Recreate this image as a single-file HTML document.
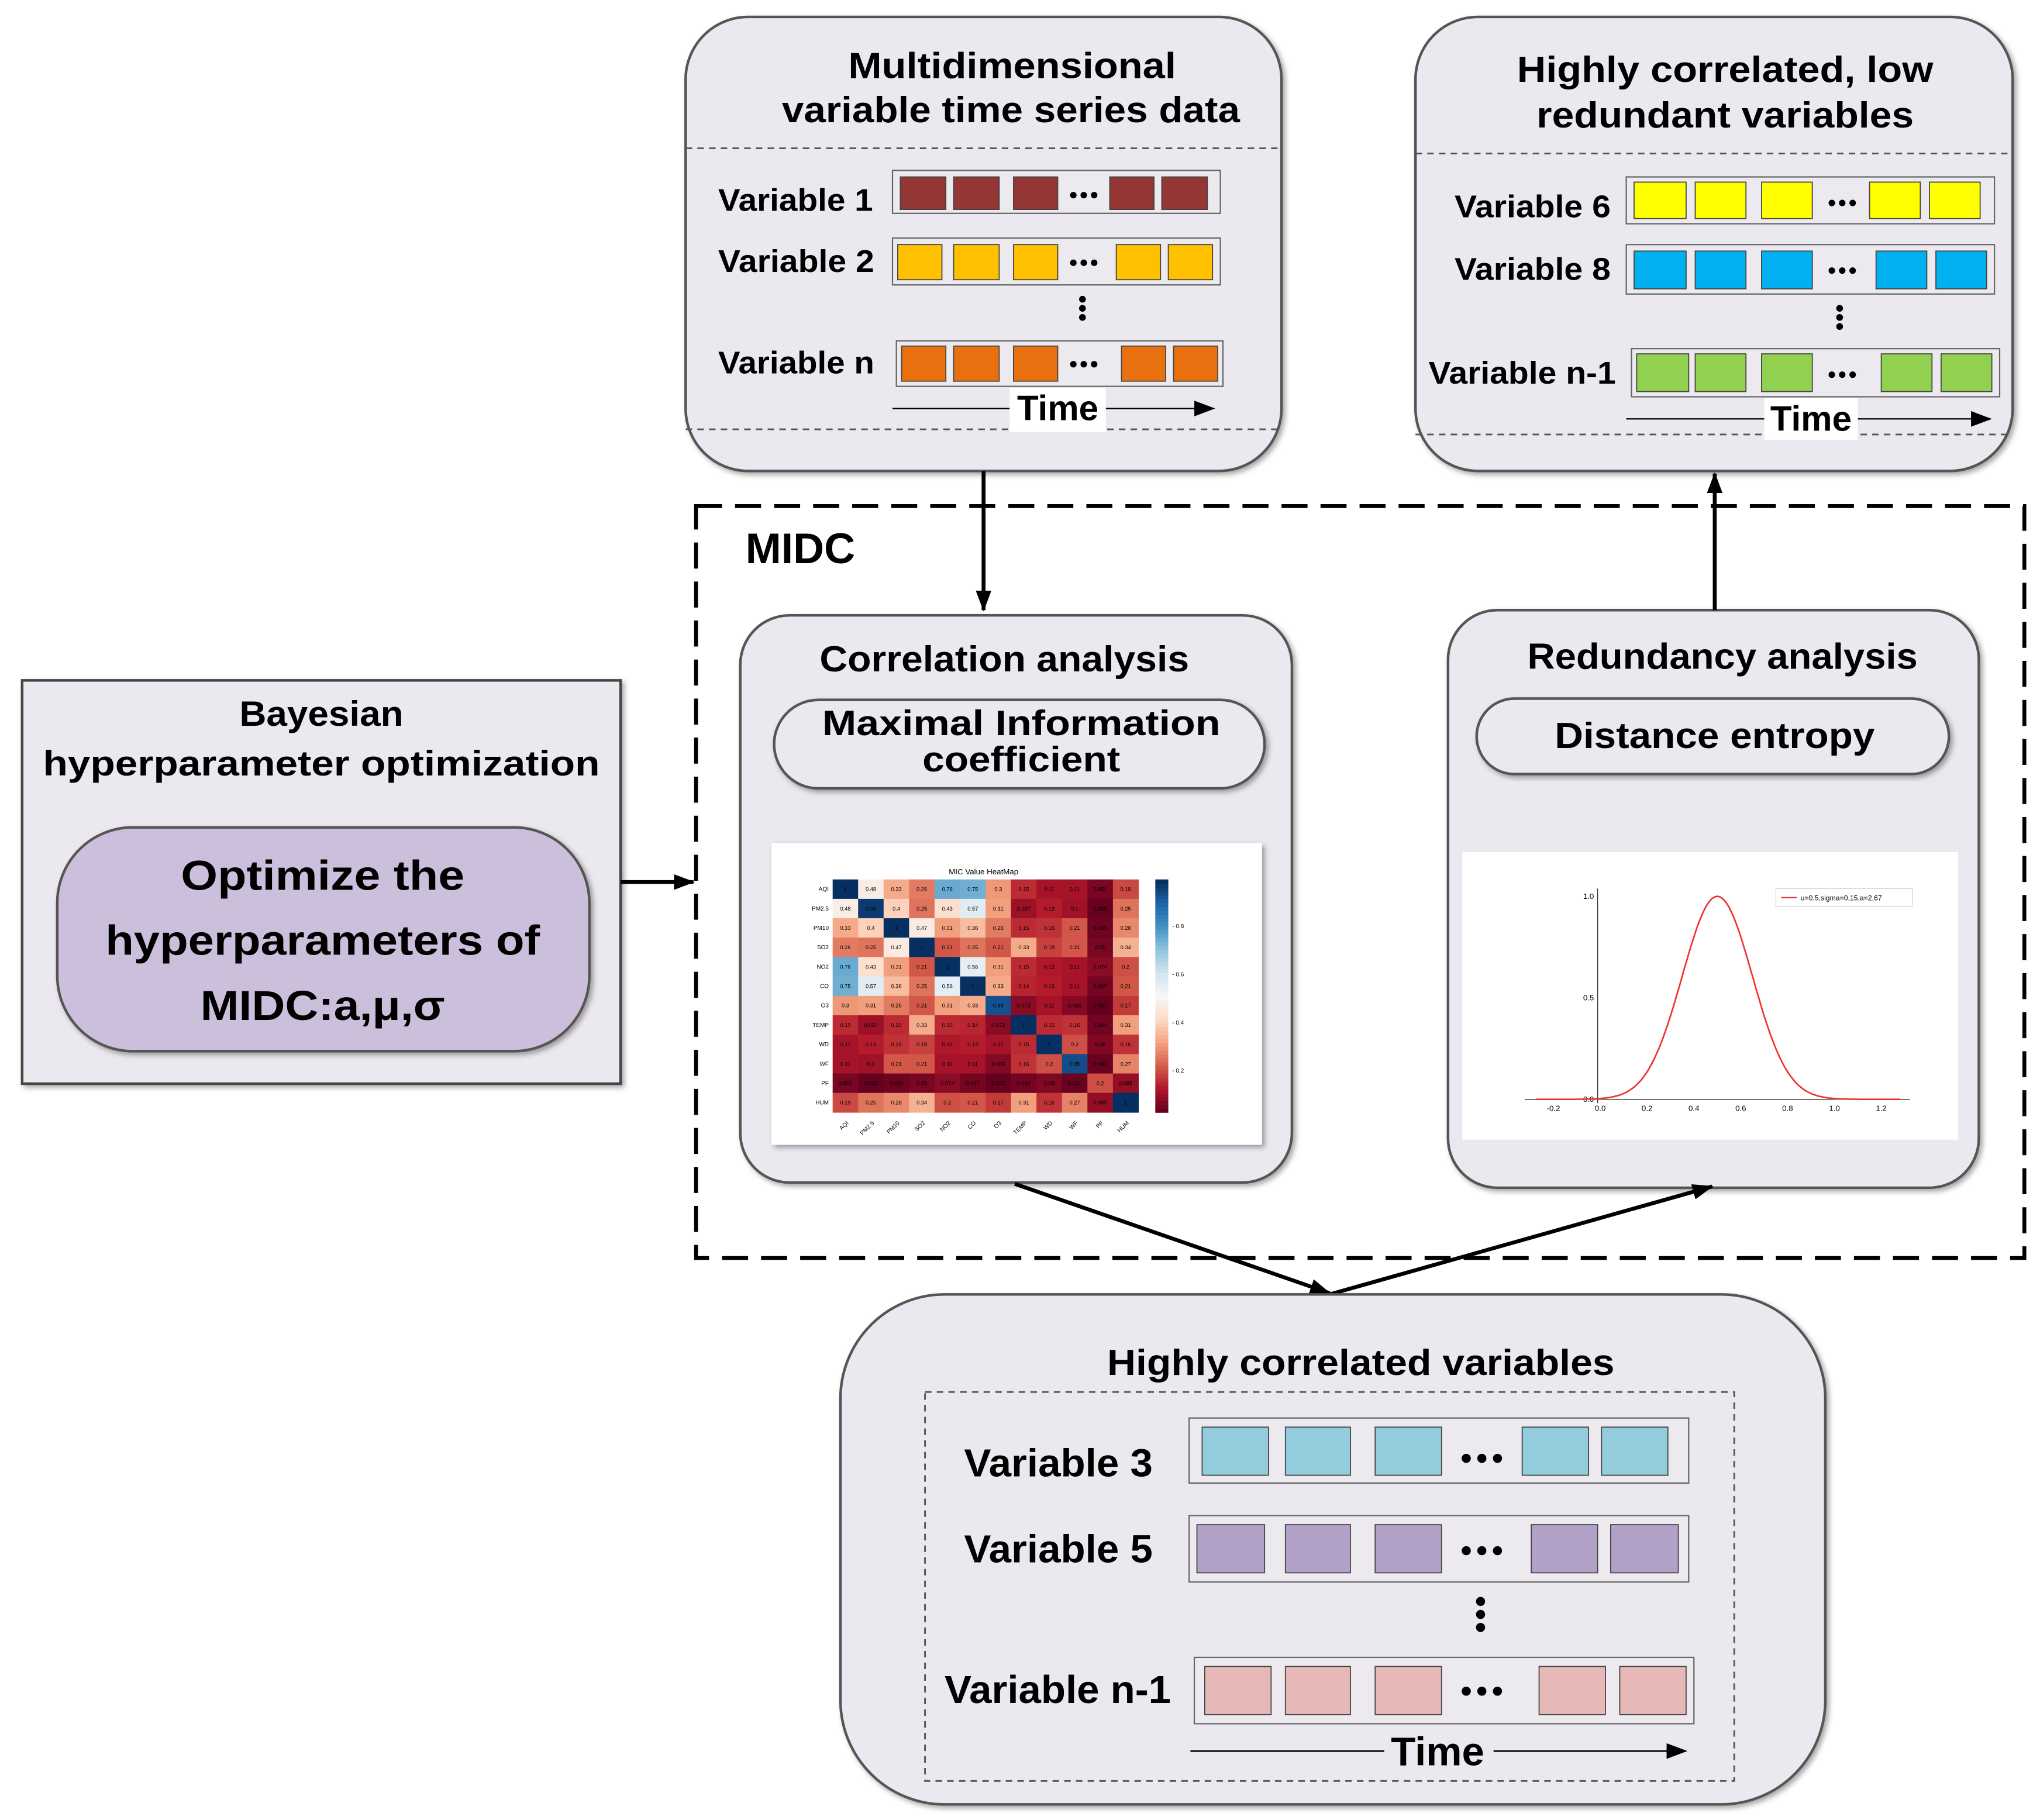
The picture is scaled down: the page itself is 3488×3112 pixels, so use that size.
<!DOCTYPE html>
<html><head><meta charset="utf-8">
<style>
html,body{margin:0;padding:0;background:#fff;}
svg{display:block;}
text{font-family:"Liberation Sans",sans-serif;font-weight:bold;fill:#000;}
</style></head>
<body>
<svg id="s" xmlns="http://www.w3.org/2000/svg" width="3488" height="3112" viewBox="0 0 1568 1399">
<defs>
<filter id="sh" x="-10%" y="-10%" width="120%" height="120%">
<feDropShadow dx="2" dy="2" stdDeviation="2" flood-color="#000" flood-opacity="0.35"/>
</filter>
<marker id="ar" markerWidth="10" markerHeight="10" refX="9" refY="5" orient="auto" markerUnits="userSpaceOnUse">
<path d="M0,0 L10,5 L0,10 z" fill="#000"/>
</marker>
<marker id="ar2" markerWidth="16" markerHeight="12" refX="15" refY="6" orient="auto" markerUnits="userSpaceOnUse">
<path d="M0,0 L16,6 L0,12 z" fill="#000"/>
</marker>
</defs>

<!-- Top-middle box -->
<rect x="527" y="13" width="458" height="349" rx="48" fill="#ebe8ef" stroke="#555" stroke-width="2" filter="url(#sh)"/>
<text x="778" y="60" font-size="28" text-anchor="middle" textLength="252" lengthAdjust="spacingAndGlyphs">Multidimensional</text>
<text x="777" y="94" font-size="28" text-anchor="middle" textLength="352" lengthAdjust="spacingAndGlyphs">variable time series data</text>
<line x1="527" y1="114" x2="985" y2="114" stroke="#555" stroke-width="1.3" stroke-dasharray="5,4"/>
<line x1="527" y1="330" x2="985" y2="330" stroke="#555" stroke-width="1.3" stroke-dasharray="5,4"/>
<text x="552" y="162" font-size="24" textLength="119" lengthAdjust="spacingAndGlyphs">Variable 1</text>
<text x="552" y="209" font-size="24" textLength="120" lengthAdjust="spacingAndGlyphs">Variable 2</text>
<text x="552" y="287" font-size="24" textLength="120" lengthAdjust="spacingAndGlyphs">Variable n</text>
<g stroke="#666" stroke-width="1" fill="#ece9ef">
<rect x="686" y="131" width="252" height="33"/>
<rect x="686" y="183" width="252" height="36"/>
<rect x="689" y="262" width="251" height="35"/>
</g>
<g stroke="#444" stroke-width="0.8" fill="#943634">
<rect x="692" y="136" width="35" height="25"/><rect x="733" y="136" width="35" height="25"/><rect x="779" y="136" width="34" height="25"/><rect x="853" y="136" width="34" height="25"/><rect x="893" y="136" width="35" height="25"/>
</g>
<g stroke="#444" stroke-width="0.8" fill="#ffc000">
<rect x="690" y="188" width="34" height="27"/><rect x="733" y="188" width="35" height="27"/><rect x="779" y="188" width="34" height="27"/><rect x="858" y="188" width="34" height="27"/><rect x="898" y="188" width="34" height="27"/>
</g>
<g stroke="#444" stroke-width="0.8" fill="#e8700f">
<rect x="693" y="266" width="34" height="27"/><rect x="733" y="266" width="35" height="27"/><rect x="779" y="266" width="34" height="27"/><rect x="862" y="266" width="34" height="27"/><rect x="902" y="266" width="34" height="27"/>
</g>
<g fill="#000">
<circle cx="825" cy="150" r="2.5"/><circle cx="833" cy="150" r="2.5"/><circle cx="841" cy="150" r="2.5"/>
<circle cx="825" cy="202" r="2.5"/><circle cx="833" cy="202" r="2.5"/><circle cx="841" cy="202" r="2.5"/>
<circle cx="825" cy="280" r="2.5"/><circle cx="833" cy="280" r="2.5"/><circle cx="841" cy="280" r="2.5"/>
<circle cx="832" cy="230" r="2.6"/><circle cx="832" cy="237" r="2.6"/><circle cx="832" cy="244" r="2.6"/>
</g>
<line x1="686" y1="314" x2="933" y2="314" stroke="#000" stroke-width="1" marker-end="url(#ar2)"/>
<rect x="776" y="298" width="74" height="34" fill="#fff"/>
<text x="813" y="323" font-size="27" text-anchor="middle">Time</text>

<!-- Top-right box -->
<rect x="1088" y="13" width="459" height="349" rx="48" fill="#ebe8ef" stroke="#555" stroke-width="2" filter="url(#sh)"/>
<text x="1326" y="63" font-size="28" text-anchor="middle" textLength="320" lengthAdjust="spacingAndGlyphs">Highly correlated, low</text>
<text x="1326" y="98" font-size="28" text-anchor="middle" textLength="290" lengthAdjust="spacingAndGlyphs">redundant variables</text>
<line x1="1088" y1="118" x2="1547" y2="118" stroke="#555" stroke-width="1.3" stroke-dasharray="5,4"/>
<line x1="1088" y1="334" x2="1547" y2="334" stroke="#555" stroke-width="1.3" stroke-dasharray="5,4"/>
<text x="1118" y="167" font-size="24" textLength="120" lengthAdjust="spacingAndGlyphs">Variable 6</text>
<text x="1118" y="215" font-size="24" textLength="120" lengthAdjust="spacingAndGlyphs">Variable 8</text>
<text x="1098" y="295" font-size="24" textLength="144" lengthAdjust="spacingAndGlyphs">Variable n-1</text>
<g stroke="#666" stroke-width="1" fill="#ece9ef">
<rect x="1250" y="136" width="283" height="36"/>
<rect x="1250" y="188" width="283" height="38"/>
<rect x="1254" y="268" width="283" height="37"/>
</g>
<g stroke="#444" stroke-width="0.8" fill="#ffff00">
<rect x="1256" y="140" width="40" height="28"/><rect x="1303" y="140" width="39" height="28"/><rect x="1354" y="140" width="39" height="28"/><rect x="1437" y="140" width="39" height="28"/><rect x="1483" y="140" width="39" height="28"/>
</g>
<g stroke="#444" stroke-width="0.8" fill="#00b0f0">
<rect x="1256" y="193" width="40" height="29"/><rect x="1303" y="193" width="39" height="29"/><rect x="1354" y="193" width="39" height="29"/><rect x="1442" y="193" width="39" height="29"/><rect x="1488" y="193" width="39" height="29"/>
</g>
<g stroke="#444" stroke-width="0.8" fill="#92d050">
<rect x="1258" y="272" width="40" height="29"/><rect x="1303" y="272" width="39" height="29"/><rect x="1354" y="272" width="39" height="29"/><rect x="1446" y="272" width="39" height="29"/><rect x="1492" y="272" width="39" height="29"/>
</g>
<g fill="#000">
<circle cx="1408" cy="156" r="2.5"/><circle cx="1416" cy="156" r="2.5"/><circle cx="1424" cy="156" r="2.5"/>
<circle cx="1408" cy="208" r="2.5"/><circle cx="1416" cy="208" r="2.5"/><circle cx="1424" cy="208" r="2.5"/>
<circle cx="1408" cy="288" r="2.5"/><circle cx="1416" cy="288" r="2.5"/><circle cx="1424" cy="288" r="2.5"/>
<circle cx="1414" cy="237" r="2.6"/><circle cx="1414" cy="244" r="2.6"/><circle cx="1414" cy="251" r="2.6"/>
</g>
<line x1="1250" y1="322" x2="1530" y2="322" stroke="#000" stroke-width="1" marker-end="url(#ar2)"/>
<rect x="1356" y="306" width="72" height="32" fill="#fff"/>
<text x="1392" y="331" font-size="27" text-anchor="middle">Time</text>

<!-- MIDC dashed -->
<rect x="535" y="389" width="1021" height="578" fill="none" stroke="#000" stroke-width="3" stroke-dasharray="20,10"/>
<text x="573" y="433" font-size="33">MIDC</text>

<!-- Correlation box -->
<rect x="569" y="473" width="424" height="436" rx="38" fill="#ebe8ef" stroke="#555" stroke-width="2" filter="url(#sh)"/>
<text x="772" y="516" font-size="28" text-anchor="middle" textLength="284" lengthAdjust="spacingAndGlyphs">Correlation analysis</text>
<rect x="595" y="538" width="377" height="68" rx="34" fill="#ebe8ef" stroke="#555" stroke-width="2" filter="url(#sh)"/>
<text x="785" y="565" font-size="27" text-anchor="middle" textLength="306" lengthAdjust="spacingAndGlyphs">Maximal Information</text>
<text x="785" y="593" font-size="27" text-anchor="middle" textLength="152" lengthAdjust="spacingAndGlyphs">coefficient</text>
<rect x="593" y="648" width="377" height="232" fill="#fff" filter="url(#sh)"/>
<text x="756" y="672" font-size="6" font-weight="normal" style="font-weight:normal" fill="#333" text-anchor="middle">MIC Value HeatMap</text>
<g id="hm"></g>

<!-- Redundancy box -->
<rect x="1113" y="469" width="408" height="444" rx="38" fill="#ebe8ef" stroke="#555" stroke-width="2" filter="url(#sh)"/>
<text x="1324" y="514" font-size="28" text-anchor="middle" textLength="300" lengthAdjust="spacingAndGlyphs">Redundancy analysis</text>
<rect x="1135" y="537" width="363" height="58" rx="29" fill="#ebe8ef" stroke="#555" stroke-width="2" filter="url(#sh)"/>
<text x="1318" y="575" font-size="28" text-anchor="middle" textLength="246" lengthAdjust="spacingAndGlyphs">Distance entropy</text>
<rect x="1124" y="655" width="381" height="221" fill="#fff"/>
<g stroke="#333" stroke-width="0.6" fill="none">
<line x1="1172" y1="845" x2="1468" y2="845"/>
<line x1="1228" y1="683" x2="1228" y2="848"/>
</g>
<g font-size="6" style="font-weight:normal" fill="#333" text-anchor="middle">
<text x="1194" y="854" style="font-weight:normal">-0.2</text><text x="1230" y="854" style="font-weight:normal">0.0</text><text x="1266" y="854" style="font-weight:normal">0.2</text><text x="1302" y="854" style="font-weight:normal">0.4</text><text x="1338" y="854" style="font-weight:normal">0.6</text><text x="1374" y="854" style="font-weight:normal">0.8</text><text x="1410" y="854" style="font-weight:normal">1.0</text><text x="1446" y="854" style="font-weight:normal">1.2</text>
<text x="1221" y="691" style="font-weight:normal">1.0</text><text x="1221" y="769" style="font-weight:normal">0.5</text><text x="1221" y="847" style="font-weight:normal">0.0</text>
</g>
<path id="gauss" fill="none" stroke="#f03030" stroke-width="1.2" d=""/>
<rect x="1365" y="683" width="105" height="14" fill="#fff" stroke="#ccc" stroke-width="0.5"/>
<line x1="1369" y1="690" x2="1381" y2="690" stroke="#f03030" stroke-width="1"/>
<text x="1384" y="692" font-size="5.5" style="font-weight:normal" fill="#333">u=0.5,sigma=0.15,a=2.67</text>

<!-- Bayesian box -->
<rect x="17" y="523" width="460" height="310" fill="#ebe8ef" stroke="#444" stroke-width="2" filter="url(#sh)"/>
<text x="247" y="558" font-size="27" text-anchor="middle" textLength="126" lengthAdjust="spacingAndGlyphs">Bayesian</text>
<text x="247" y="596" font-size="27" text-anchor="middle" textLength="428" lengthAdjust="spacingAndGlyphs">hyperparameter optimization</text>
<rect x="44" y="636" width="409" height="172" rx="58" fill="#cbbfdb" stroke="#555" stroke-width="2" filter="url(#sh)"/>
<text x="248" y="684" font-size="32" text-anchor="middle" textLength="218" lengthAdjust="spacingAndGlyphs">Optimize the</text>
<text x="248" y="734" font-size="32" text-anchor="middle" textLength="334" lengthAdjust="spacingAndGlyphs">hyperparameters of</text>
<text x="248" y="784" font-size="32" text-anchor="middle" textLength="188" lengthAdjust="spacingAndGlyphs">MIDC:a,μ,σ</text>

<!-- Arrows -->
<g stroke="#000" stroke-width="3" fill="none">
<line x1="477" y1="678" x2="533" y2="678" marker-end="url(#ar2)"/>
<line x1="756" y1="362" x2="756" y2="469" marker-end="url(#ar2)"/>
<line x1="1318" y1="469" x2="1318" y2="364" marker-end="url(#ar2)"/>
<line x1="780" y1="910" x2="1022" y2="994" marker-end="url(#ar2)"/>
<line x1="1022" y1="995" x2="1316" y2="912" marker-end="url(#ar2)"/>
</g>

<!-- Bottom box -->
<rect x="646" y="995" width="757" height="392" rx="80" fill="#ebe8ef" stroke="#555" stroke-width="2" filter="url(#sh)"/>
<text x="1046" y="1057" font-size="28" text-anchor="middle" textLength="390" lengthAdjust="spacingAndGlyphs">Highly correlated variables</text>
<rect x="711" y="1070" width="622" height="299" fill="none" stroke="#555" stroke-width="1.3" stroke-dasharray="5,4"/>
<text x="741" y="1135" font-size="30" textLength="145" lengthAdjust="spacingAndGlyphs">Variable 3</text>
<text x="741" y="1201" font-size="30" textLength="145" lengthAdjust="spacingAndGlyphs">Variable 5</text>
<text x="726" y="1309" font-size="30" textLength="174" lengthAdjust="spacingAndGlyphs">Variable n-1</text>
<g stroke="#666" stroke-width="1" fill="#ece9ef">
<rect x="914" y="1090" width="384" height="50"/>
<rect x="914" y="1165" width="384" height="51"/>
<rect x="918" y="1274" width="384" height="51"/>
</g>
<g stroke="#444" stroke-width="0.8" fill="#93cddd">
<rect x="924" y="1097" width="51" height="37"/><rect x="988" y="1097" width="50" height="37"/><rect x="1057" y="1097" width="51" height="37"/><rect x="1170" y="1097" width="51" height="37"/><rect x="1231" y="1097" width="51" height="37"/>
</g>
<g stroke="#444" stroke-width="0.8" fill="#b2a1c7">
<rect x="920" y="1172" width="52" height="37"/><rect x="988" y="1172" width="50" height="37"/><rect x="1057" y="1172" width="51" height="37"/><rect x="1177" y="1172" width="51" height="37"/><rect x="1238" y="1172" width="52" height="37"/>
</g>
<g stroke="#444" stroke-width="0.8" fill="#e6b9b8">
<rect x="926" y="1281" width="51" height="37"/><rect x="988" y="1281" width="50" height="37"/><rect x="1057" y="1281" width="51" height="37"/><rect x="1183" y="1281" width="51" height="37"/><rect x="1245" y="1281" width="51" height="37"/>
</g>
<g fill="#000">
<circle cx="1127" cy="1121" r="3.5"/><circle cx="1139" cy="1121" r="3.5"/><circle cx="1151" cy="1121" r="3.5"/>
<circle cx="1127" cy="1192" r="3.5"/><circle cx="1139" cy="1192" r="3.5"/><circle cx="1151" cy="1192" r="3.5"/>
<circle cx="1127" cy="1300" r="3.5"/><circle cx="1139" cy="1300" r="3.5"/><circle cx="1151" cy="1300" r="3.5"/>
<circle cx="1138" cy="1231" r="3.5"/><circle cx="1138" cy="1241" r="3.5"/><circle cx="1138" cy="1251" r="3.5"/>
</g>
<line x1="915" y1="1346" x2="1296" y2="1346" stroke="#000" stroke-width="1.2" marker-end="url(#ar2)"/>
<rect x="1064" y="1328" width="84" height="36" fill="#ebe8ef"/>
<text x="1105" y="1357" font-size="31" text-anchor="middle">Time</text>
</svg>
<script>
(function(){
var NS="http://www.w3.org/2000/svg";
var V=[
[1,.48,.33,.26,.76,.75,.3,.15,.11,.11,.051,.19],
[.48,.98,.4,.25,.43,.57,.31,.097,.13,.1,.028,.25],
[.33,.4,1,.47,.31,.36,.26,.15,.16,.21,.039,.28],
[.26,.25,.47,1,.21,.25,.21,.33,.18,.21,.05,.34],
[.76,.43,.31,.21,1,.56,.31,.15,.12,.11,.074,.2],
[.75,.57,.36,.25,.56,1,.33,.14,.13,.11,.047,.21],
[.3,.31,.26,.21,.31,.33,.94,.072,.11,.065,.027,.17],
[.15,.097,.15,.33,.15,.14,.072,1,.15,.16,.044,.31],
[.11,.13,.16,.18,.12,.13,.11,.15,1,.2,.06,.16],
[.11,.1,.21,.21,.11,.11,.065,.16,.2,.95,.031,.27],
[.051,.028,.039,.05,.074,.047,.027,.044,.06,.031,.2,.085],
[.19,.25,.28,.34,.2,.21,.17,.31,.16,.27,.085,1]];
var L=["AQI","PM2.5","PM10","SO2","NO2","CO","O3","TEMP","WD","WF","PF","HUM"];
var S=[[103,0,31],[178,24,43],[214,96,77],[244,165,130],[253,219,199],[247,247,247],[209,229,240],[146,197,222],[67,147,195],[33,102,172],[5,48,97]];
function col(v){var t=(v-0.027)/(1-0.027);t=Math.max(0,Math.min(1,t))*10;var i=Math.min(9,Math.floor(t)),f=t-i;var a=S[i],b=S[i+1];
return "rgb("+[0,1,2].map(function(k){return Math.round(a[k]+(b[k]-a[k])*f)}).join(",")+")";}
var g=document.getElementById("hm");
var x0=640,y0=676,cw=(875-640)/12,ch=(855-676)/12;
function el(n,a,t){var e=document.createElementNS(NS,n);for(var k in a)e.setAttribute(k,a[k]);if(t)e.textContent=t;g.appendChild(e);return e;}
for(var r=0;r<12;r++){for(var c=0;c<12;c++){var v=V[r][c];
el("rect",{x:x0+c*cw,y:y0+r*ch,width:cw+0.3,height:ch+0.3,fill:col(v)});
el("text",{x:x0+c*cw+cw/2,y:y0+r*ch+ch/2+1.5,"font-size":"4.2","text-anchor":"middle",fill:(v>0.65||v<0.2)?"#fff":"#222",style:"font-weight:normal"},String(v).replace(/^0\./,"0."));}
el("text",{x:x0-3,y:y0+r*ch+ch/2+1.5,"font-size":"4.5","text-anchor":"end",fill:"#333",style:"font-weight:normal"},L[r]);
el("text",{x:x0+r*cw+cw/2,y:y0+12*ch+8,"font-size":"4.5","text-anchor":"end",fill:"#333",style:"font-weight:normal",transform:"rotate(-45 "+(x0+r*cw+cw/2+2)+" "+(y0+12*ch+5)+")"},L[r]);}
for(var i=0;i<60;i++){var v=0.027+(1-0.027)*(i/59);el("rect",{x:888,y:855-(i+1)*(179/60),width:10,height:179/60+0.4,fill:col(v)});}
[[0.2,823],[0.4,786],[0.6,749],[0.8,712]].forEach(function(p){el("text",{x:901,y:p[1]+1.5,"font-size":"4.5",fill:"#333",style:"font-weight:normal"},"- "+p[0]);});
var d="";for(var i=0;i<=200;i++){var xv=-0.3+1.7*i/200;var px=1230+xv*180;if(px<1180||px>1462)continue;
var yv=Math.exp(-Math.pow(xv-0.5,2)/(2*0.0225));var py=845-156*yv;d+=(d?"L":"M")+px.toFixed(1)+","+py.toFixed(1);}
document.getElementById("gauss").setAttribute("d",d);
})();
</script>
</body></html>
